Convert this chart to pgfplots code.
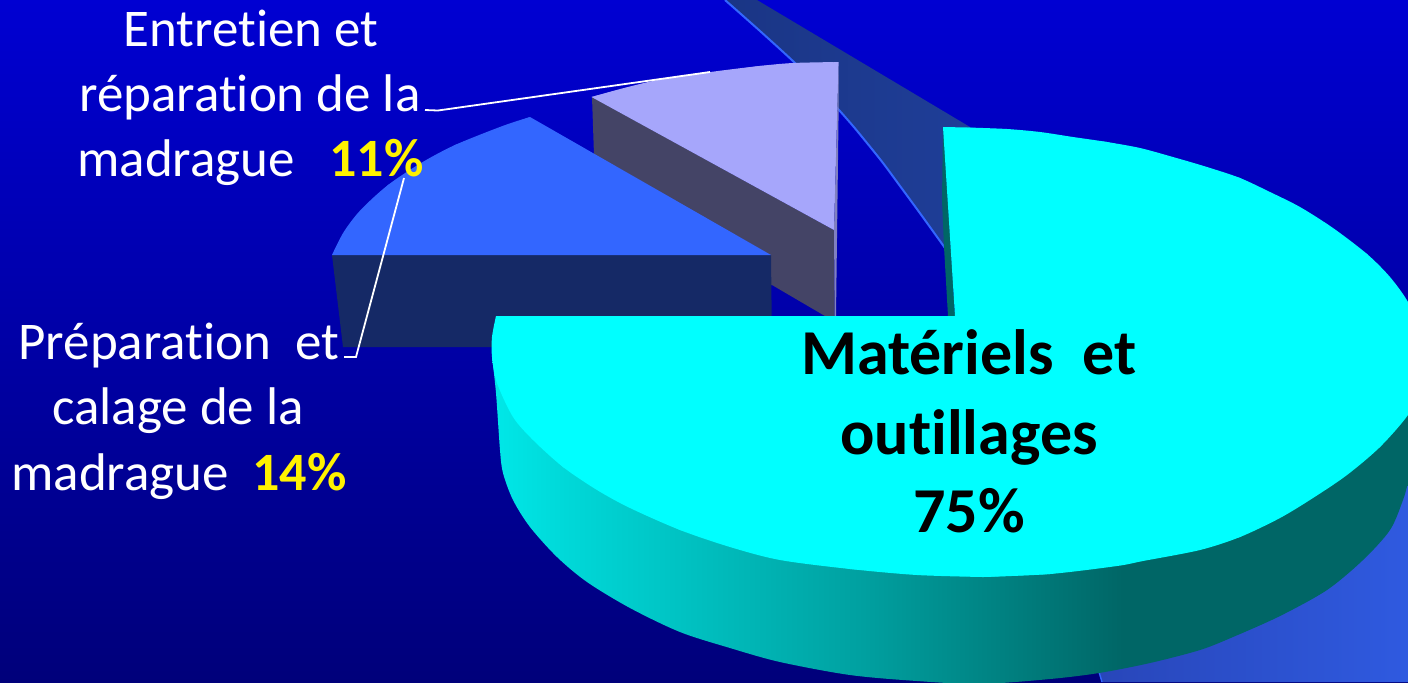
\documentclass[border=0pt]{standalone}
\usepackage{pgfplots}
\pgfplotsset{compat=1.18}
\usepackage{fontspec}
\setmainfont[Ligatures=NoCommon]{Carlito}
\definecolor{cyanT}{HTML}{00FFFF}
\definecolor{tealD}{HTML}{006666}
\definecolor{lav}{HTML}{A6A6FB}
\definecolor{lavS}{HTML}{444466}
\definecolor{lavE}{HTML}{8080C0}
\definecolor{blueT}{HTML}{3366FF}
\definecolor{blueF}{HTML}{152966}
\definecolor{bgTop}{HTML}{0000D2}
\definecolor{bgBot}{HTML}{00007A}
\definecolor{sA}{HTML}{00E8E8}
\definecolor{sB}{HTML}{00D8D8}
\definecolor{sC}{HTML}{00A0A0}
\definecolor{bandA}{HTML}{1A3585}
\definecolor{bandB}{HTML}{1F3E98}
\definecolor{brA}{HTML}{2846B9}
\definecolor{brB}{HTML}{2F5AE0}
\pgfdeclareverticalshading{bgshade}{100bp}{color(0bp)=(bgBot); color(25bp)=(bgBot); color(75bp)=(bgTop); color(100bp)=(bgTop)}
\pgfdeclarehorizontalshading{sideshade}{100bp}{color(0bp)=(sA); color(25bp)=(sA); color(29bp)=(sB); color(45bp)=(sC); color(59bp)=(tealD); color(100bp)=(tealD)}
\pgfdeclarehorizontalshading{bandshade}{100bp}{color(0bp)=(bandA); color(25bp)=(bandA); color(75bp)=(bandB); color(100bp)=(bandB)}
\pgfdeclarehorizontalshading{brshade}{100bp}{color(0bp)=(brA); color(25bp)=(brA); color(75bp)=(brB); color(100bp)=(brB)}
\begin{document}
\begin{tikzpicture}
\begin{axis}[scale only axis,width=704pt,height=341pt,hide axis,
  xmin=0,xmax=1408,ymin=0,ymax=682,y dir=reverse,clip=true]
% background
\addplot[draw=none,shading=bgshade] coordinates {(0,0)(1408,0)(1408,682)(0,682)} -- cycle;
% wall band
\addplot[draw=none,shading=bandshade] coordinates {(725,0)(757,0)(970,127)(960,320)(945,248)(922,216)(900,186)(883,163)(867,143)(853,126)(839,110)(817,85.5)(795,63)(760,31)} -- cycle;
\addplot[color=blueT,line width=1pt,smooth] coordinates {(725,0)(760,31)(795,63)(817,85.5)(839,110)(853,126)(867,143)(883,163)(900,186)(922,216)(945,248)};
% lavender slice
\addplot[draw=none,fill=lavS] coordinates {(592,97)(834,230)(834.7,316)(825,316)(772,285)(760,285)(594,155)} -- cycle;
\addplot[draw=none,fill=lav,smooth] coordinates {(591.5,97)(624,88)(658,80)(710.5,72)(759.5,66)(793,63)(838.6,62)} -- cycle;
\addplot[draw=none,fill=lav] coordinates {(591.5,97)(658,80)(759.5,66)(838.6,62)(834,230)} -- cycle;
\addplot[draw=none,fill=lavE] coordinates {(838.6,62)(834,230)(834.7,316)(836,316)(838.6,112)} -- cycle;
% blue slice
\addplot[draw=none,fill=blueF] coordinates {(332,255)(771,255)(772,347)(343,347)} -- cycle;
\addplot[draw=none,fill=blueT,smooth] coordinates {(530,117)(502.5,126)(455,145)(421,163)(388,185)(360.6,210)(343.7,232)(332,255)} -- cycle;
\addplot[draw=none,fill=blueT] coordinates {(530,117)(455,145)(388,185)(332,255)(771,255)} -- cycle;
% lower-right blue
\addplot[draw=none,shading=brshade] coordinates {(1099,672)(1102,682)(1408,682)(1408,470)} -- cycle;
\addplot[color=blueT,line width=0.7pt] coordinates {(1099,672)(1102,682)};
% cyan side
\addplot[draw=none,shading=sideshade,smooth] coordinates {(492,357)(496,393)(500,450)(503,473)(513,500)(530,527)(557,557)(587,582)(630,608)(680,632)(730,648)(780,662)(850,675)(917,681)(980,684)(1050,679)(1099,673)(1150,663)(1200,650)(1233,637)(1280,616)(1327,590)(1363,560)(1390,530)(1403,500)(1408,483)(1420,440)} -- cycle;
\addplot[draw=none,fill=tealD] coordinates {(1250,500)(1430,380)(1430,440)(1408,483)(1250,600)} -- cycle;
\addplot[draw=none,fill=tealD] coordinates {(943,127)(942,200)(944,247)(948,316)(955,316)} -- cycle;
% cyan top
\addplot[draw=none,fill=cyanT] coordinates {(943,127)(968,127.5)(1107,142)(1240,178)(1367,254)(1420,330)(1380,447)(1240,537)(1050,574)(983,577)(850,569)(680,530)(563,467)(497,383)(496,316)(955,316)} -- cycle;
\addplot[draw=none,fill=cyanT,smooth] coordinates {(968,127.5)(1007,129)(1040,132)(1073,137)(1107,142)(1140,148)(1173,157)(1207,167)(1240,178)(1270,192)(1300,207)(1333,228)(1367,254)(1390,277)(1408,302)(1420,330)(1425,360)(1420,390)(1408,415)(1380,447)(1347,475)(1313,498)(1280,518)(1240,537)(1200,550)(1143,561)(1117,566)(1050,574)(983,577)} -- cycle;
\addplot[draw=none,fill=cyanT,smooth] coordinates {(983,577)(917,575)(850,569)(780,560)(730,547)(680,530)(630,508)(597,490)(563,467)(533,440)(513,417)(497,383)(492,357)(492,337)(496,316)} -- cycle;
% leader lines
\addplot[color=white,line width=0.9pt] coordinates {(425,110)(438,110.5)(710,72)};
\addplot[color=white,line width=0.9pt] coordinates {(344,357)(356,357)(404,178)};
% labels
\tikzset{lab/.style={anchor=base west,inner sep=0pt,font=\fontsize{26.5}{26.5}\selectfont,text=white},
 pct/.style={anchor=base west,inner sep=0pt,font=\fontsize{27}{27}\selectfont\bfseries,text=yellow},
 big/.style={anchor=base,inner sep=0pt,font=\fontsize{32}{32}\selectfont\bfseries,text=black}}
\node[lab] at (axis cs:123,46) {Entretien et};
\node[lab] at (axis cs:79,111) {réparation de la};
\node[lab] at (axis cs:77,176) {madrague};
\node[pct] at (axis cs:329,176) {11\%};
\node[lab] at (axis cs:18,359) {Préparation~~et};
\node[lab] at (axis cs:52,424) {calage de la};
\node[lab] at (axis cs:11,490) {madrague};
\node[pct] at (axis cs:252,490) {14\%};
\node[big] at (axis cs:969,374) {Matériels~~et};
\node[big] at (axis cs:969,454) {outillages};
\node[big] at (axis cs:969,532) {75\%};
\end{axis}
\end{tikzpicture}
\end{document}
